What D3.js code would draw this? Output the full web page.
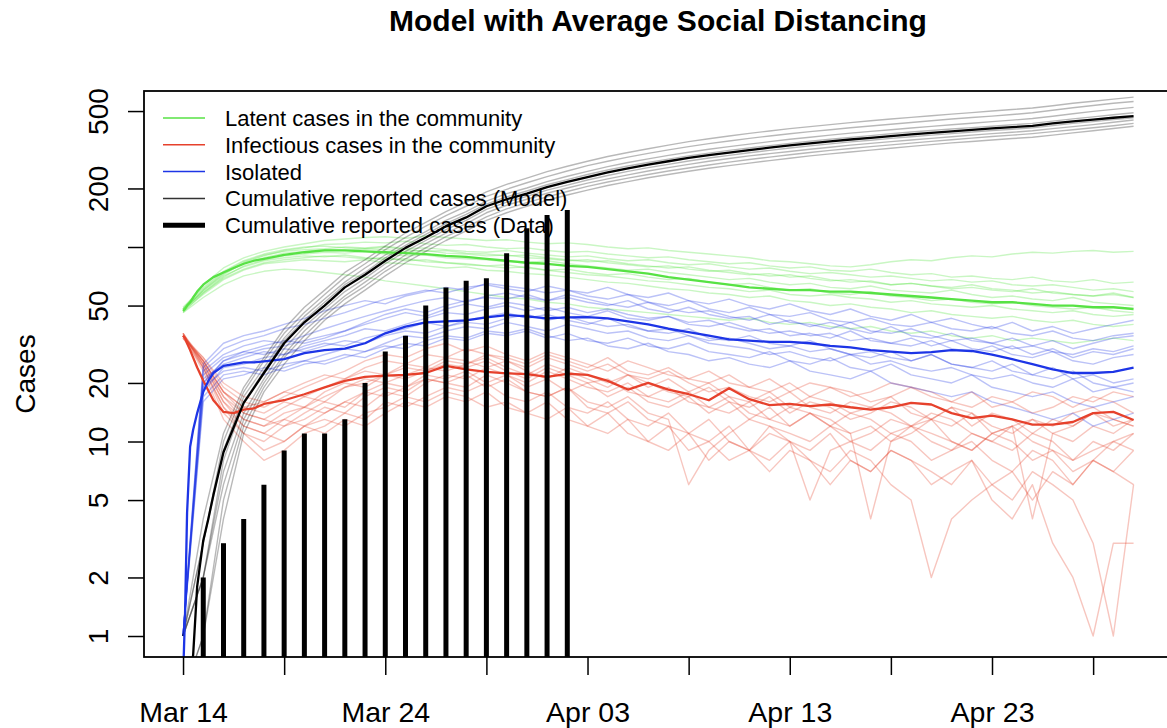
<!DOCTYPE html>
<html><head><meta charset="utf-8">
<script src="https://cdn.jsdelivr.net/npm/d3@7"></script>
<style>
body{margin:0;background:#fff}
svg{display:block}
text{font-family:"Liberation Sans",Arial,Helvetica,sans-serif;fill:#000}
</style>
</head><body>
<svg id="chart" width="1167" height="728"></svg>
<script>
// ---------------- DATA ----------------
const startDate = "2020-03-14";           // day 0
const titleText = "Model with Average Social Distancing";
const yLabel = "Cases";
const legendLabels = ["Latent cases in the community","Infectious cases in the community","Isolated","Cumulative reported cases (Model)","Cumulative reported cases (Data)"];

const xTickDays = [0,5,10,15,20,25,30,35,40,45];
const xTickLabels = ["Mar 14","","Mar 24","","Apr 03","","Apr 13","","Apr 23",""];
const yTickValues = [1,2,5,10,20,50,100,200,500];
const yTickLabels = ["1","2","5","10","20","50","","200","500"];

// time grid (days since Mar 14) of the mean curves
const meanT = [0,0.1,0.2,0.35,0.5,0.7,1,1.25,1.5,2,2.5,3,3.5,4,5,6,7,8,9,10,11,12,13,14,15,16,17,18,19,20,21,22,23,24,25,26,27,28,29,30,31,32,33,34,35,36,37,38,39,40,41,42,43,44,45,46,47];
const latentMean = [47,48,50,52,55,59,64,67,70,74,78,82,85,87,91,94,96,96,95,94,93,92,90,89,87,85,83,82,80,79,77,75,73,70,68,66,64,62,61,60,60,59,59,58,57,56,55,54,53,52,52,51,50,50,49,49,48];
const infectiousMean = [35,34,32,29.5,27,24,20.6,18.3,16.3,14.2,14,14.6,14.8,15.6,16.3,17.5,19,20.5,21.5,21.8,22,22.5,24.5,23.5,22.8,22.4,22.2,21.5,22.3,22,20.5,18.5,20,18.5,17.5,16.3,18.8,16.5,15.4,15.6,15.2,15.5,15,14.6,15,15.8,15.5,14,13.2,13.6,13,12.2,12.2,12.6,14,14.2,12.9];
const isolatedMean = [0.6,1.3,4.3,9.4,11.5,14,18,20.5,22.5,24.5,25,25.5,25.5,25.8,26.5,28.5,29.5,30,32,36,39,41,41.5,42,43.5,44.7,44,43,43.5,43.6,43,41.5,40,38,36.5,35,33.5,33,32.5,32.5,32,31,30.5,29.5,29,28.5,28.8,29.5,29.2,28,26.5,25,23.5,22.5,22.5,22.8,24];
const cumulativeMean = [0.4,0.45,0.5,0.6,0.8,1.8,3.1,4.0,5.3,8.8,11.8,15.8,18.8,22.5,32,41,50,62,72,85,99,112,128,142,162,176,188,203,216,229,242,254,265,276,287,297,306,315,324,333,341,349,357,364,372,379,386,393,400,407,413,420,432,443,452,462,471];

// individual simulation runs, one value per day (Mar 14 .. Apr 30)
const latentRuns = [
 [48,64,78,88,95,100,104,108,110,112,113,111,114,112,110,108,109,106,104,105,103,100,98,99,96,94,92,90,88,85,84,82,80,79,81,84,86,85,88,90,89,92,94,93,95,96,94,95],
 [47,60,72,83,90,96,99,103,104,106,105,107,104,102,103,100,98,99,96,94,95,92,90,88,89,86,84,82,83,80,78,79,76,75,77,74,72,73,70,71,69,68,70,67,66,68,65,66],
 [49,62,75,85,92,97,100,101,99,98,100,97,95,96,93,92,90,91,88,86,84,85,82,80,78,79,76,74,72,73,70,71,68,66,67,64,65,63,62,64,61,60,58,59,57,56,58,55],
 [46,58,70,80,86,90,92,94,93,95,92,90,91,88,87,86,84,83,85,82,80,78,76,77,74,72,70,68,69,66,64,65,62,61,63,60,59,58,60,57,55,56,54,53,55,52,51,50],
 [48,59,71,79,85,88,90,89,91,88,86,87,84,83,81,80,78,79,76,74,72,71,69,67,66,64,62,61,59,60,57,56,57,55,54,52,53,51,50,49,50,48,47,46,47,45,44,45],
 [47,57,68,76,82,84,86,85,84,86,83,82,80,78,79,76,75,73,72,70,68,66,65,63,61,60,58,57,55,56,53,52,50,51,49,48,46,47,45,44,43,44,42,41,42,40,39,40],
 [46,55,64,71,75,77,76,74,72,70,67,65,63,61,59,57,55,54,52,51,49,48,47,46,45,44,43,42,43,41,40,41,39,38,39,37,36,37,35,34,35,33,34,33,32,33,34,33],
 [48,61,74,84,91,95,97,98,100,99,101,98,99,97,95,94,96,93,91,89,90,87,85,86,83,81,82,79,77,78,75,73,74,72,70,71,69,67,68,66,67,64,63,64,62,60,61,59],
 [47,60,73,82,88,93,95,97,96,98,97,95,96,93,92,90,91,88,87,85,86,83,81,79,80,77,75,76,73,71,72,69,67,68,66,64,65,63,61,62,60,59,61,58,57,56,57,55],
 [48,58,69,77,83,86,88,90,89,87,88,85,86,83,82,80,81,78,76,77,74,72,73,70,68,69,66,64,65,62,60,61,58,57,59,56,55,53,54,52,51,52,50,49,48,49,47,46]
];
const isolatedRuns = [
 [1,24,30,33,35,38,40,43,46,50,54,57,60,58,62,64,61,59,63,60,58,62,57,55,58,53,51,54,50,48,51,47,45,48,44,42,45,41,43,40,38,41,37,39,36,38,40,42],
 [1,20,26,28,30,31,33,35,37,40,43,46,44,48,51,49,52,50,47,49,46,48,45,43,44,41,42,39,37,38,35,36,34,37,33,32,34,31,33,30,29,31,28,30,27,29,28,30],
 [1,18,24,25,27,28,30,32,31,34,36,38,41,39,42,44,46,43,45,42,40,43,39,37,38,35,33,34,32,30,31,29,30,28,27,29,26,28,25,24,26,23,22,24,21,22,20,21],
 [1,22,27,29,28,30,29,31,33,32,35,37,36,39,41,40,43,45,42,44,41,39,40,37,36,38,34,33,35,32,31,33,30,28,29,27,26,28,25,24,23,25,22,21,23,20,19,20],
 [1,16,21,22,24,23,25,26,28,27,30,32,31,34,33,36,35,37,34,36,33,32,34,31,30,32,29,28,27,29,26,25,27,24,23,25,22,21,20,22,19,18,17,18,16,15,16,17],
 [1,25,32,35,37,40,43,47,50,53,51,56,59,62,60,65,63,61,58,60,56,54,57,52,50,53,48,46,49,45,44,46,42,41,43,40,39,41,38,37,39,36,35,37,34,33,35,36],
 [1,19,23,24,23,25,26,25,27,29,31,30,33,35,34,37,36,38,35,33,34,31,30,32,29,28,26,27,25,24,26,23,22,21,23,20,19,18,17,18,16,15,14,13,14,12,13,14],
 [1,21,25,27,29,28,31,33,35,38,37,40,43,46,45,48,50,47,49,46,44,47,43,42,44,40,39,41,38,36,37,35,36,33,34,32,31,33,30,29,31,28,27,29,26,25,27,28],
 [1,23,28,31,33,32,35,38,41,44,47,50,53,55,52,56,58,55,53,57,54,51,49,52,48,46,47,44,42,45,41,40,38,41,37,36,38,35,33,34,32,30,31,29,28,30,29,31],
 [1,17,22,23,22,24,26,28,30,29,32,35,34,37,39,38,41,39,37,40,38,36,37,34,33,35,32,31,30,28,29,27,26,28,25,26,24,23,24,22,21,22,20,19,21,18,19,18],
 [1,20,26,29,31,33,32,34,37,41,45,48,46,50,53,55,54,57,53,55,52,50,53,48,46,49,45,43,44,40,42,39,41,38,36,39,35,34,36,33,32,34,31,33,30,32,34,35]
];
const infectiousRuns = [
 [35,26,17,13,12,14,15,17,19,21,20,22,24,23,25,27,24,22,25,23,21,19,22,20,18,17,19,16,15,17,14,16,15,13,14,16,15,13,12,14,11,12,13,11,12,14,13,12],
 [36,24,15,11,10,12,13,15,14,17,19,18,21,20,22,19,21,18,17,19,16,15,17,14,13,6,9,11,13,12,10,5,9,10,9,11,10,8,9,10,8,7,9,8,6,8,7,6],
 [34,27,19,16,15,17,19,21,23,26,28,27,30,32,29,31,28,26,29,27,25,23,26,24,22,21,23,20,19,21,18,20,19,17,18,20,19,17,16,18,15,16,18,17,15,17,16,14],
 [35,23,13,10,8,9,11,12,14,13,16,15,17,19,18,20,17,16,18,15,14,16,13,12,14,11,10,12,9,8,10,9,11,8,7,9,8,7,6,8,5,4,6,3,2,1,3,3],
 [35,25,16,12,11,13,12,14,16,15,18,17,20,22,21,24,22,20,23,21,19,18,20,17,16,18,15,14,16,13,12,14,12,10,11,13,12,10,9,11,10,9,11,10,8,10,9,11],
 [36,26,18,14,13,15,17,16,19,20,22,24,23,26,25,28,26,24,27,25,23,25,22,21,23,20,18,19,17,16,18,15,14,16,15,14,12,13,15,14,12,11,13,12,14,15,13,12],
 [34,24,14,11,9,10,12,11,13,12,14,16,15,17,16,18,15,14,16,13,12,14,11,10,12,9,10,8,9,11,10,8,7,9,8,6,5,2,4,5,6,5,7,6,5,3,1,6],
 [35,27,20,17,16,18,20,22,21,24,26,25,28,27,30,28,27,25,28,26,24,27,23,22,24,21,20,22,19,18,20,17,19,18,16,17,19,18,16,15,17,16,14,15,17,16,18,17],
 [36,25,16,13,12,13,15,14,16,18,17,19,21,20,19,22,20,18,17,19,15,14,16,13,12,11,13,10,9,12,11,10,12,11,4,10,12,11,10,9,11,12,10,9,8,9,10,11],
 [35,26,18,15,14,16,15,18,20,19,22,21,23,25,24,26,23,21,24,22,20,21,18,17,19,16,15,17,14,13,15,14,12,14,13,11,12,14,13,11,10,12,4,11,10,12,11,13],
 [35,25,17,14,13,12,14,16,15,18,20,19,22,21,23,20,22,19,21,18,20,17,19,16,15,17,14,16,13,15,12,14,13,11,12,10,11,13,10,9,11,10,8,9,7,8,10,9],
 [34,26,18,15,16,18,17,19,21,23,22,25,24,27,26,24,26,23,21,24,22,20,22,19,21,18,20,17,16,18,15,17,16,14,15,17,14,13,15,12,14,13,11,13,12,14,12,13],
 [36,24,15,12,11,10,12,13,12,14,15,17,16,18,17,15,16,14,13,15,12,11,13,10,9,11,8,10,9,7,9,8,6,8,7,9,8,6,7,8,6,7,5,7,6,8,7,9]
];
const cumulativeRuns = [
 [1,4,11,19,27,38,49,60,74,86,101,118,134,152,170,192,210,226,244,260,276,292,306,320,334,348,360,372,384,395,406,416,426,436,446,455,464,473,482,491,500,509,518,532,548,562,576,590],
 [1,3,10,18,26,36,46,57,70,82,97,112,128,145,162,182,198,214,230,246,262,276,290,303,316,328,340,351,362,372,382,392,401,410,419,428,437,446,455,463,471,480,490,505,520,534,548,560],
 [1,3,9,17,24,34,44,54,66,78,91,106,120,137,152,172,188,201,217,231,245,259,272,284,296,307,318,328,338,348,358,367,376,385,393,401,409,417,425,433,441,449,458,470,484,498,510,522],
 [1,2,8,16,23,33,42,52,64,74,88,102,116,132,147,166,181,194,209,222,236,249,261,272,283,294,304,314,323,332,341,350,358,366,374,382,390,397,404,411,418,425,432,444,456,467,479,490],
 [1,2,7,14,21,30,39,48,59,69,82,95,108,123,137,156,170,182,196,208,221,233,245,256,266,277,287,296,305,314,323,331,339,347,354,362,369,376,383,390,397,403,410,421,432,441,452,462],
 [1,2,6,13,20,28,37,46,56,66,78,91,104,118,132,150,164,176,189,201,213,224,235,246,256,266,276,285,294,302,310,318,326,334,341,348,355,362,369,376,383,389,396,406,416,426,438,450],
 [0.5,1,5,12,19,27,35,44,54,63,75,87,99,113,126,143,157,169,181,193,205,216,226,236,246,255,264,273,282,290,298,306,314,321,328,335,342,349,356,363,370,376,383,392,401,410,420,432],
 [0.5,1,4,11,18,25,33,42,51,60,71,83,95,108,121,137,150,162,174,185,196,207,217,227,236,245,254,262,270,278,286,294,301,308,315,322,329,336,343,349,355,361,367,376,386,396,407,418]
];

// reported cumulative cases (data)
const dataDates = ["2020-03-15","2020-03-16","2020-03-17","2020-03-18","2020-03-19","2020-03-20","2020-03-21","2020-03-22","2020-03-23","2020-03-24","2020-03-25","2020-03-26","2020-03-27","2020-03-28","2020-03-29","2020-03-30","2020-03-31","2020-04-01","2020-04-02"];
const dataCases = [2,3,4,6,9,11,11,13,20,29,35,50,62,67,69,93,125,146,155];

// ---------------- STYLE ----------------
const colLatent = "#57e244", colInf = "#e6412c", colIso = "#1d35e6", colCum = "#000000";

// ---------------- CHART ----------------
const svg = d3.select("#chart");
const L = 144, R = 1172, T = 91, B = 657;
const day0 = d3.utcParse("%Y-%m-%d")(startDate);
const DAY = 86400000;
const toDate = d => new Date(day0.getTime() + d * DAY);

const x = d3.scaleUtc().domain([toDate(-1.93), toDate(48.9)]).range([L, R]);
const y = d3.scaleLog().domain([0.78, 634]).range([B, T]);

svg.append("defs").append("clipPath").attr("id","clip")
  .append("rect").attr("x",L).attr("y",T).attr("width",R-L).attr("height",B-T);

const plot = svg.append("g").attr("clip-path","url(#clip)");

const runLine = d3.line().x((v,i)=>x(toDate(i))).y(v=>y(v));
const runStep = d3.line().x((v,i)=>x(toDate(i))).y(v=>y(v)).curve(d3.curveStep);
const meanLine = d3.line().x((v,i)=>x(toDate(meanT[i]))).y(v=>y(v));

function drawRuns(runs, col, gen, op){
  plot.append("g").selectAll("path").data(runs).join("path")
    .attr("d", gen).attr("fill","none").attr("stroke", col)
    .attr("stroke-opacity", op).attr("stroke-width", 1.4).attr("stroke-linejoin","round");
}
drawRuns(latentRuns, colLatent, runLine, 0.32);
drawRuns(infectiousRuns, colInf, runLine, 0.3);
drawRuns(isolatedRuns, colIso, runLine, 0.3);
drawRuns(cumulativeRuns, "#000", runLine, 0.28);

[[latentMean,colLatent],[infectiousMean,colInf],[isolatedMean,colIso],[cumulativeMean,colCum]].forEach(([vals,col])=>{
  plot.append("path").attr("d", meanLine(vals)).attr("fill","none")
    .attr("stroke", col).attr("stroke-width", 2.3).attr("stroke-linejoin","round");
});

const parse = d3.utcParse("%Y-%m-%d");
plot.append("g").selectAll("line").data(dataDates).join("line")
  .attr("x1", d=>x(parse(d))).attr("x2", d=>x(parse(d)))
  .attr("y1", B+2).attr("y2", (d,i)=>y(dataCases[i]))
  .attr("stroke","#000").attr("stroke-width",5);

// axes
const xAxis = d3.axisBottom(x).tickValues(xTickDays.map(toDate))
  .tickFormat((d,i)=>xTickLabels[i]).tickSize(18).tickSizeOuter(0);
const gx = svg.append("g").attr("transform",`translate(0,${B})`).call(xAxis);
gx.select(".domain").remove();
gx.selectAll("line").attr("stroke","#000").attr("stroke-width",1.5);
gx.selectAll("text").attr("y",65).attr("dy",null).attr("font-size",28.5)
  .attr("font-family",'"Liberation Sans",Arial,sans-serif').attr("fill","#000");

const yAxis = d3.axisLeft(y).tickValues(yTickValues)
  .tickFormat((d,i)=>yTickLabels[i]).tickSize(16).tickSizeOuter(0);
const gy = svg.append("g").attr("transform",`translate(${L},0)`).call(yAxis);
gy.select(".domain").remove();
gy.selectAll("line").attr("stroke","#000").attr("stroke-width",1.5);
gy.selectAll("text").attr("x",0).attr("dy",null).attr("y",0)
  .attr("text-anchor","middle").attr("transform","translate(-36,0) rotate(-90)")
  .attr("font-size",28).attr("font-family",'"Liberation Sans",Arial,sans-serif').attr("fill","#000");

svg.append("rect").attr("x",L).attr("y",T).attr("width",R-L).attr("height",B-T)
  .attr("fill","none").attr("stroke","#000").attr("stroke-width",1.8);

// y label
svg.append("text").attr("transform",`translate(35,${(T+B)/2}) rotate(-90)`)
  .attr("text-anchor","middle").attr("font-size",28).text(yLabel);

// title
svg.append("text").attr("x",(L+R)/2).attr("y",31).attr("text-anchor","middle")
  .attr("font-size",30).attr("font-weight","bold").text(titleText);

// legend
const legCols = [colLatent,colInf,colIso,"#333",colCum];
const legW = [1.5,1.5,1.5,1.5,5];
const legG = svg.append("g");
legendLabels.forEach((lab,i)=>{
  const yy = 118 + i*26.8;
  legG.append("line").attr("x1",163).attr("x2",205).attr("y1",yy).attr("y2",yy)
    .attr("stroke",legCols[i]).attr("stroke-width",legW[i]);
  legG.append("text").attr("x",225).attr("y",yy+8).attr("font-size",22).text(lab);
});
</script>
</body></html>
